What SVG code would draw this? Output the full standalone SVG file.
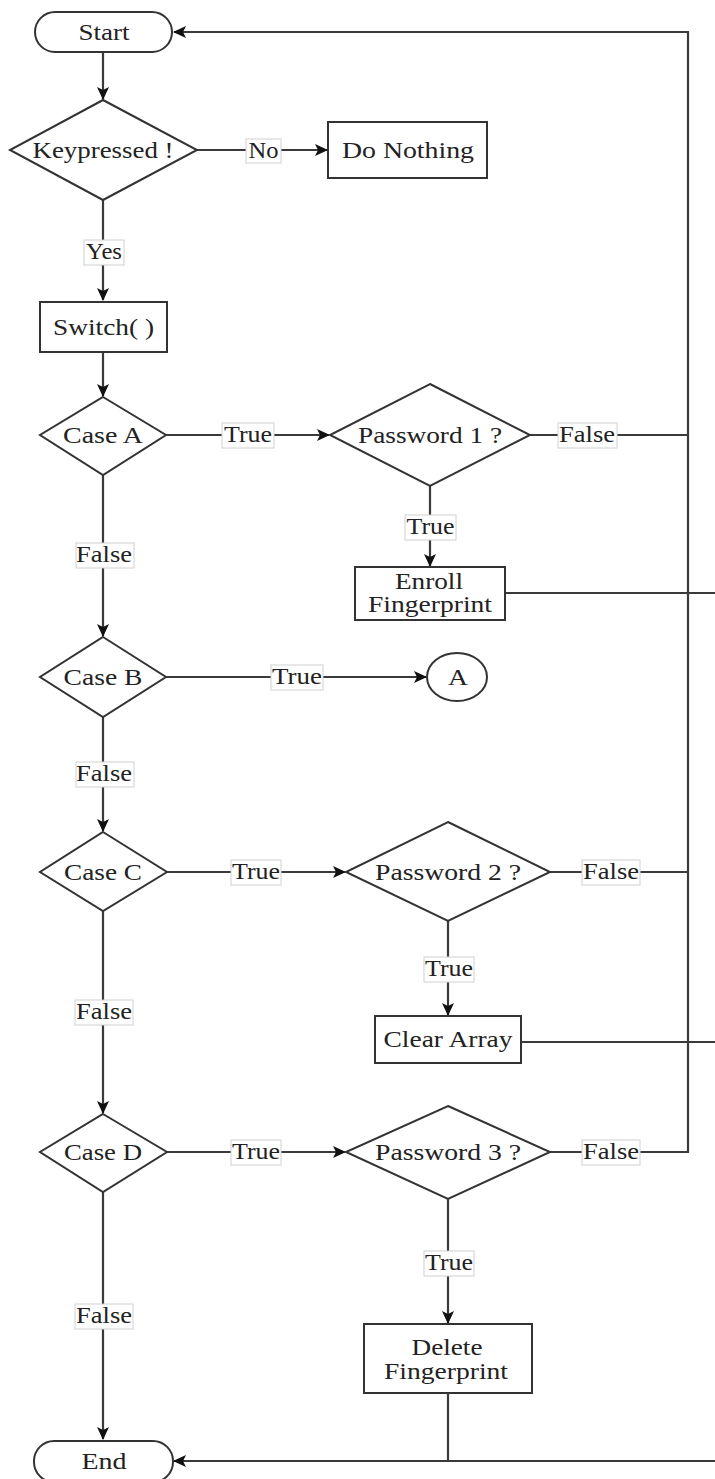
<svg xmlns="http://www.w3.org/2000/svg" width="715" height="1479" viewBox="0 0 715 1479">
<style>
.n{fill:#fff;stroke:#333;stroke-width:2}
.c{fill:none;stroke:#3a3a3a;stroke-width:2.2}
.t{font-family:"Liberation Serif","Times New Roman",serif;font-size:23px;fill:#222;text-anchor:middle}
.lb{fill:#fff;stroke:#d0d0d0;stroke-width:1}
</style>
<defs>
<marker id="ar" viewBox="0 0 13 12" refX="12" refY="6" markerWidth="13" markerHeight="12" markerUnits="userSpaceOnUse" orient="auto">
<path d="M0,0 L13,6 L0,12 L3,6 z" fill="#111"/>
</marker>
</defs>
<rect width="715" height="1479" fill="#fff"/>
<g id="connectors">
<path class="c" d="M103,52 V99" marker-end="url(#ar)"/>
<path class="c" d="M197,150 H327" marker-end="url(#ar)"/>
<path class="c" d="M103,200 V300" marker-end="url(#ar)"/>
<path class="c" d="M103,352 V396" marker-end="url(#ar)"/>
<path class="c" d="M166,435 H329" marker-end="url(#ar)"/>
<path class="c" d="M530,435 H688"/>
<path class="c" d="M430,486 V566" marker-end="url(#ar)"/>
<path class="c" d="M505,593 H715"/>
<path class="c" d="M103,475 V636" marker-end="url(#ar)"/>
<path class="c" d="M166,677 H426" marker-end="url(#ar)"/>
<path class="c" d="M103,717 V831" marker-end="url(#ar)"/>
<path class="c" d="M167,872 H345" marker-end="url(#ar)"/>
<path class="c" d="M550,872 H688"/>
<path class="c" d="M448,921 V1015" marker-end="url(#ar)"/>
<path class="c" d="M521,1042 H715"/>
<path class="c" d="M103,911 V1113" marker-end="url(#ar)"/>
<path class="c" d="M167,1152 H345" marker-end="url(#ar)"/>
<path class="c" d="M550,1152 H688 V32 H174" marker-end="url(#ar)"/>
<path class="c" d="M448,1199 V1323" marker-end="url(#ar)"/>
<path class="c" d="M103,1192 V1439" marker-end="url(#ar)"/>
<path class="c" d="M448,1393 V1461"/>
<path class="c" d="M715,1461 H174" marker-end="url(#ar)"/>
<g id="labels">
<rect class="lb" x="246" y="139" width="35" height="24"/><text class="t" x="263.5" y="158" textLength="30" lengthAdjust="spacingAndGlyphs">No</text>
<rect class="lb" x="84" y="240" width="40" height="25"/><text class="t" x="104" y="259" textLength="36" lengthAdjust="spacingAndGlyphs">Yes</text>
<rect class="lb" x="222" y="423" width="52" height="25"/><text class="t" x="248" y="442" textLength="48" lengthAdjust="spacingAndGlyphs">True</text>
<rect class="lb" x="558" y="423" width="59" height="25"/><text class="t" x="587" y="442" textLength="56" lengthAdjust="spacingAndGlyphs">False</text>
<rect class="lb" x="405" y="515" width="51" height="25"/><text class="t" x="430.5" y="534" textLength="48" lengthAdjust="spacingAndGlyphs">True</text>
<rect class="lb" x="76" y="543" width="58" height="25"/><text class="t" x="104" y="562" textLength="56" lengthAdjust="spacingAndGlyphs">False</text>
<rect class="lb" x="271" y="665" width="52" height="25"/><text class="t" x="297" y="684" textLength="50" lengthAdjust="spacingAndGlyphs">True</text>
<rect class="lb" x="76" y="762" width="58" height="25"/><text class="t" x="104" y="781" textLength="56" lengthAdjust="spacingAndGlyphs">False</text>
<rect class="lb" x="231" y="860" width="50" height="25"/><text class="t" x="256" y="879" textLength="48" lengthAdjust="spacingAndGlyphs">True</text>
<rect class="lb" x="582" y="860" width="58" height="25"/><text class="t" x="611" y="879" textLength="56" lengthAdjust="spacingAndGlyphs">False</text>
<rect class="lb" x="424" y="957" width="50" height="25"/><text class="t" x="449" y="976" textLength="48" lengthAdjust="spacingAndGlyphs">True</text>
<rect class="lb" x="75" y="1000" width="58" height="25"/><text class="t" x="104" y="1019" textLength="56" lengthAdjust="spacingAndGlyphs">False</text>
<rect class="lb" x="231" y="1140" width="50" height="25"/><text class="t" x="256" y="1159" textLength="48" lengthAdjust="spacingAndGlyphs">True</text>
<rect class="lb" x="582" y="1140" width="58" height="25"/><text class="t" x="611" y="1159" textLength="56" lengthAdjust="spacingAndGlyphs">False</text>
<rect class="lb" x="424" y="1251" width="50" height="25"/><text class="t" x="449" y="1270" textLength="48" lengthAdjust="spacingAndGlyphs">True</text>
<rect class="lb" x="75" y="1304" width="58" height="25"/><text class="t" x="104" y="1323" textLength="56" lengthAdjust="spacingAndGlyphs">False</text>
</g>
</g>
<g id="start"><rect class="n" x="35" y="12" width="137" height="40" rx="20"/><text class="t" x="104" y="40" textLength="51" lengthAdjust="spacingAndGlyphs">Start</text></g>
<g id="keypressed"><polygon class="n" points="103,100 197,150 103,200 10,150"/><text class="t" x="103" y="158" textLength="141" lengthAdjust="spacingAndGlyphs">Keypressed !</text></g>
<g id="donothing"><rect class="n" x="328" y="122" width="159" height="56"/><text class="t" x="408" y="158" textLength="132" lengthAdjust="spacingAndGlyphs">Do Nothing</text></g>
<g id="switch"><rect class="n" x="40" y="302" width="127" height="50"/><text class="t" x="103.5" y="335" textLength="101" lengthAdjust="spacingAndGlyphs">Switch( )</text></g>
<g id="caseA"><polygon class="n" points="103,397 166,435 103,475 40,435"/><text class="t" x="103" y="443" textLength="80" lengthAdjust="spacingAndGlyphs">Case A</text></g>
<g id="pw1"><polygon class="n" points="430,384 530,435 430,486 330,435"/><text class="t" x="430" y="443" textLength="144" lengthAdjust="spacingAndGlyphs">Password 1 ?</text></g>
<g id="enroll"><rect class="n" x="355" y="567" width="150" height="53"/><text class="t" x="429" y="589" textLength="68" lengthAdjust="spacingAndGlyphs">Enroll</text><text class="t" x="430" y="612" textLength="124" lengthAdjust="spacingAndGlyphs">Fingerprint</text></g>
<g id="caseB"><polygon class="n" points="103,637 166,677 103,717 40,677"/><text class="t" x="103" y="685" textLength="79" lengthAdjust="spacingAndGlyphs">Case B</text></g>
<g id="connA"><ellipse class="n" cx="457" cy="677" rx="30" ry="24"/><text class="t" x="458" y="685" textLength="20" lengthAdjust="spacingAndGlyphs">A</text></g>
<g id="caseC"><polygon class="n" points="103,832 167,872 103,911 40,872"/><text class="t" x="103" y="880" textLength="78" lengthAdjust="spacingAndGlyphs">Case C</text></g>
<g id="pw2"><polygon class="n" points="448,822 550,872 448,921 346,872"/><text class="t" x="448" y="880" textLength="146" lengthAdjust="spacingAndGlyphs">Password 2 ?</text></g>
<g id="clear"><rect class="n" x="375" y="1016" width="146" height="47"/><text class="t" x="448" y="1047" textLength="129" lengthAdjust="spacingAndGlyphs">Clear Array</text></g>
<g id="caseD"><polygon class="n" points="103,1114 167,1152 103,1192 40,1152"/><text class="t" x="103" y="1160" textLength="78" lengthAdjust="spacingAndGlyphs">Case D</text></g>
<g id="pw3"><polygon class="n" points="448,1106 550,1152 448,1199 346,1152"/><text class="t" x="448" y="1160" textLength="146" lengthAdjust="spacingAndGlyphs">Password 3 ?</text></g>
<g id="delete"><rect class="n" x="364" y="1324" width="168" height="69"/><text class="t" x="447" y="1355" textLength="71" lengthAdjust="spacingAndGlyphs">Delete</text><text class="t" x="446" y="1379" textLength="124" lengthAdjust="spacingAndGlyphs">Fingerprint</text></g>
<g id="end"><rect class="n" x="34" y="1441" width="139" height="41" rx="20"/><text class="t" x="104" y="1469" textLength="45" lengthAdjust="spacingAndGlyphs">End</text></g>
</svg>
